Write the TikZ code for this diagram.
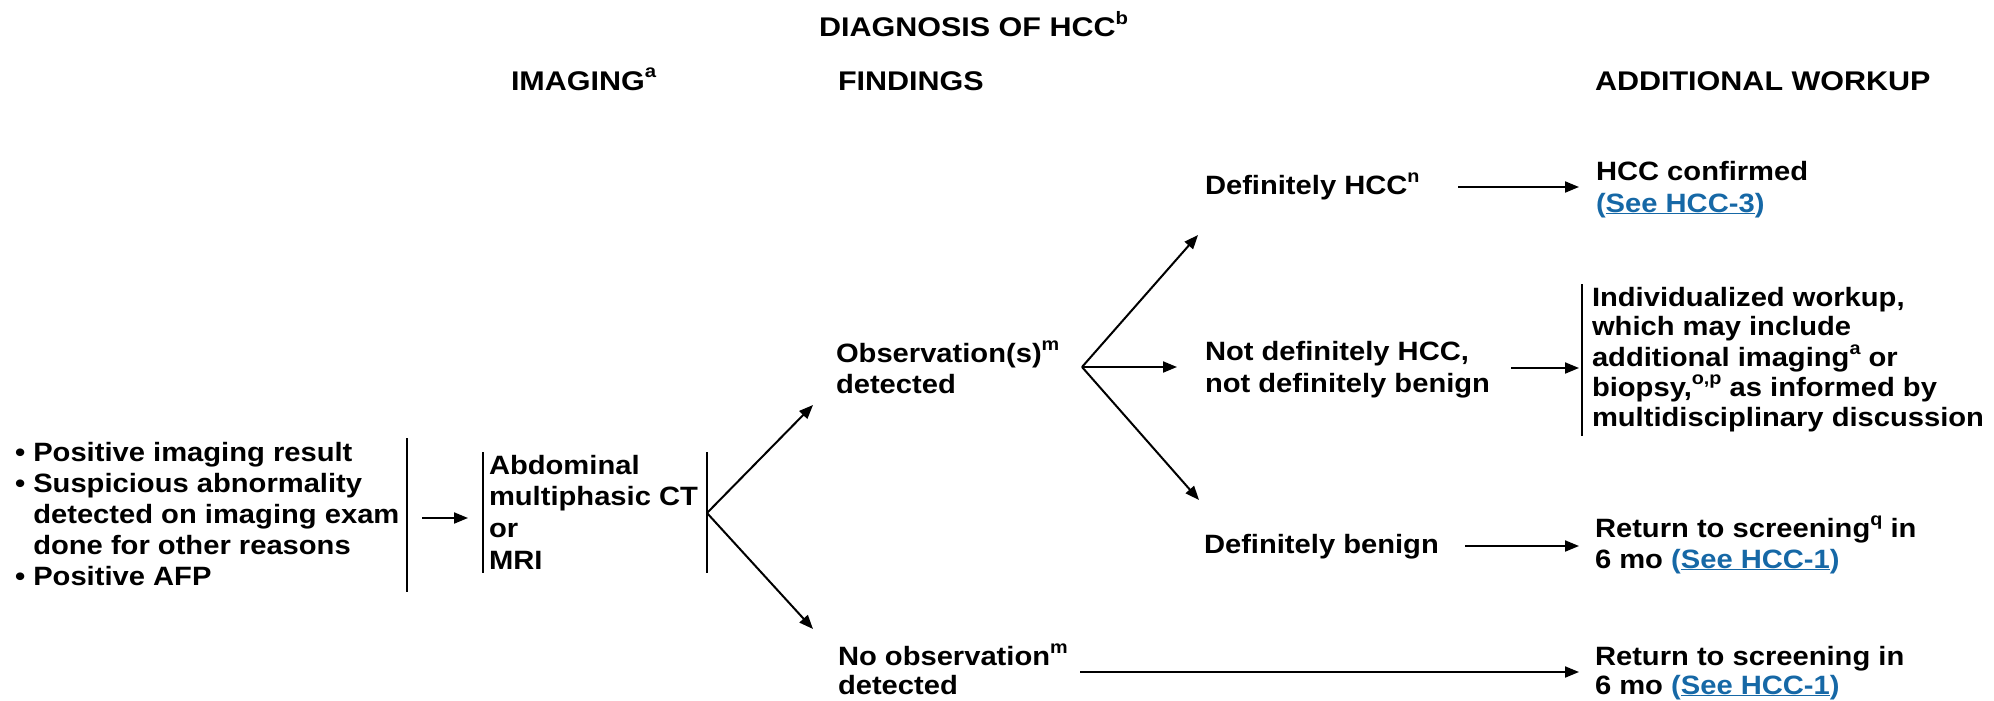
\documentclass[tikz,border=0pt]{standalone}
\usepackage{fontspec}
\setmainfont{Liberation Sans}[FakeStretch=1.10]
\newfontfamily\hdfont{Liberation Sans}[FakeStretch=1.13]
\usetikzlibrary{arrows.meta}
\definecolor{linkblue}{RGB}{22,104,166}
\newcommand\sups[1]{\raisebox{0.45em}{\fontsize{18}{18}\selectfont #1}}
\newcommand\lnk[1]{\textcolor{linkblue}{(\underline{#1})}}
\newcommand\tl[1]{\begin{tabular}[t]{@{}l@{}}#1\end{tabular}}
\begin{document}
\begin{tikzpicture}[x=1pt,y=-1pt,
  txt/.style={anchor=base west,inner sep=0pt,outer sep=0pt,font=\bfseries\fontsize{26.5}{#1}\selectfont},
  txt/.default=31,
  hd/.style={anchor=base west,inner sep=0pt,outer sep=0pt,font=\hdfont\bfseries\fontsize{27}{32}\selectfont},
  arr/.style={line width=2pt,-{Triangle[length=14pt,width=11pt]}},
  bar/.style={line width=2pt}]
\useasboundingbox (0,0) rectangle (1994,701);
% headings
\node[hd] (title) at (819,37) {DIAGNOSIS OF HCC\sups{b}};
\node[hd] (himg) at (511,90) {IMAGING\sups{a}};
\node[hd] (hfind) at (838,90) {FINDINGS};
\node[hd] (hwork) at (1595,90) {ADDITIONAL WORKUP};
% text nodes
\node[txt=31.2] (pres) at (15,461) {\tl{\textbullet\ Positive imaging result\\ \textbullet\ Suspicious abnormality\\ \phantom{\textbullet\ }detected on imaging exam\\ \phantom{\textbullet\ }done for other reasons\\ \textbullet\ Positive AFP}};
\node[txt=31.9] (img) at (489,474) {\tl{Abdominal\\ multiphasic CT\\ or\\ MRI}};
\node[txt=31] (obs) at (836,362) {\tl{Observation(s)\sups{m}\\ detected}};
\node[txt=29] (noobs) at (838,665) {\tl{No observation\sups{m}\\ detected}};
\node[txt] (defhcc) at (1205,194) {Definitely HCC\sups{n}};
\node[txt=32] (notdef) at (1205,360) {\tl{Not definitely HCC,\\ not definitely benign}};
\node[txt] (defben) at (1204,553) {Definitely benign};
\node[txt=32] (confirm) at (1596,180) {\tl{HCC confirmed\\ \lnk{See HCC-3}}};
\node[txt=29.6] (indiv) at (1592,306) {\tl{Individualized workup,\\ which may include\\ additional imaging\sups{a} or\\ biopsy,\sups{o,p} as informed by\\ multidisciplinary discussion}};
\node[txt=31] (ret1) at (1595,537) {\tl{Return to screening\sups{q} in\\ 6 mo \lnk{See HCC-1}}};
\node[txt=29] (ret2) at (1595,665) {\tl{Return to screening in\\ 6 mo \lnk{See HCC-1}}};
% coordinates
\coordinate (b1t) at (407,438); \coordinate (b1b) at (407,592);
\coordinate (a1s) at (422,518); \coordinate (a1e) at (468,518);
\coordinate (b2t) at (483,452); \coordinate (b2b) at (483,573);
\coordinate (b3t) at (707,452); \coordinate (b3b) at (707,573);
\coordinate (br1) at (707,513);
\coordinate (t1) at (813,405); \coordinate (t2) at (813,629);
\coordinate (br2) at (1082,367);
\coordinate (t3) at (1198,235); \coordinate (t4) at (1177,367); \coordinate (t5) at (1199,500);
\coordinate (h1s) at (1458,187); \coordinate (h1e) at (1579,187);
\coordinate (h2s) at (1511,368); \coordinate (h2e) at (1579,368);
\coordinate (h3s) at (1465,546); \coordinate (h3e) at (1579,546);
\coordinate (h4s) at (1080,672); \coordinate (h4e) at (1579,672);
\coordinate (b4t) at (1582,284); \coordinate (b4b) at (1582,436);
% bars
\draw[bar] (b1t) -- (b1b);
\draw[bar] (b2t) -- (b2b);
\draw[bar] (b3t) -- (b3b);
\draw[bar] (b4t) -- (b4b);
% arrows
\draw[arr] (a1s) -- (a1e);
\draw[arr] (br1) -- (t1);
\draw[arr] (br1) -- (t2);
\draw[arr] (br2) -- (t3);
\draw[arr] (br2) -- (t4);
\draw[arr] (br2) -- (t5);
\draw[arr] (h1s) -- (h1e);
\draw[arr] (h2s) -- (h2e);
\draw[arr] (h3s) -- (h3e);
\draw[arr] (h4s) -- (h4e);
\end{tikzpicture}
\end{document}
